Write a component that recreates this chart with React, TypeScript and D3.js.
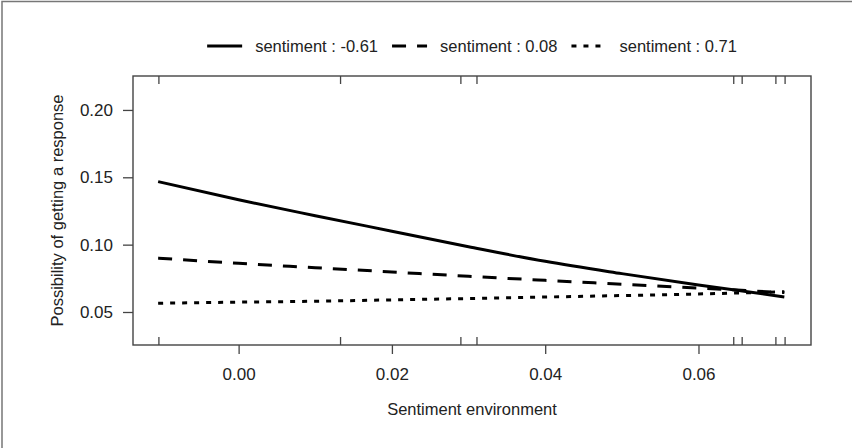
import React, { useEffect, useRef } from "react";
import * as d3 from "d3";

// values
const xPoints = [-0.0105, 0.0, 0.01, 0.02, 0.03, 0.04, 0.05, 0.06, 0.0712];
const negSentiment = [0.1468, 0.1333, 0.1215, 0.11, 0.0985, 0.0876, 0.0785, 0.07, 0.0612];
const midSentiment = [0.09, 0.0861, 0.0829, 0.0797, 0.0765, 0.0735, 0.0706, 0.0678, 0.0644];
const posSentiment = [0.0565, 0.0573, 0.058, 0.059, 0.06, 0.0611, 0.0622, 0.0634, 0.065];
const seriesLabels = ["sentiment : -0.61", "sentiment : 0.08", "sentiment : 0.71"];
const rugValues = [-0.0104, 0.0133, 0.029, 0.0311, 0.0646, 0.0657, 0.0701, 0.0713];
const xTicks = [0.0, 0.02, 0.04, 0.06];
const yTicks = [0.05, 0.1, 0.15, 0.2];

const FONT = "'Liberation Sans', Arial, sans-serif";

const App = () => {
  const svgRef = useRef(null);

  useEffect(() => {
    const width = 852;
    const height = 448;
    const box = { left: 133, right: 811, top: 76, bottom: 345 };

    const svg = d3.select(svgRef.current);
    svg.selectAll("*").remove();
    svg.attr("width", width).attr("height", height);

    svg.append("rect").attr("width", width).attr("height", height).attr("fill", "#fff");
    // outer frame (only top and left edges show)
    svg
      .append("rect")
      .attr("x", 2)
      .attr("y", 1.5)
      .attr("width", width)
      .attr("height", height)
      .attr("fill", "none")
      .attr("stroke", "#777")
      .attr("stroke-width", 1.5);

    const x = d3.scaleLinear().domain([-0.01378, 0.07468]).range([box.left, box.right]);
    const y = d3.scaleLinear().domain([0.0255, 0.2252]).range([box.bottom, box.top]);

    // x axis
    const xAxis = d3
      .axisBottom(x)
      .tickValues(xTicks)
      .tickSize(9)
      .tickPadding(14)
      .tickFormat(d3.format(".2f"));
    const gx = svg.append("g").attr("transform", `translate(0,${box.bottom})`).call(xAxis);
    gx.select(".domain").remove();
    gx.selectAll("line").attr("stroke", "#444").attr("stroke-width", 1.3);
    gx.selectAll("text")
      .attr("font-family", FONT)
      .attr("font-size", 17)
      .attr("fill", "#222");

    // y axis
    const yAxis = d3
      .axisLeft(y)
      .tickValues(yTicks)
      .tickSize(10)
      .tickPadding(10)
      .tickFormat(d3.format(".2f"));
    const gy = svg.append("g").attr("transform", `translate(${box.left},0)`).call(yAxis);
    gy.select(".domain").remove();
    gy.selectAll("line").attr("stroke", "#444").attr("stroke-width", 1.3);
    gy.selectAll("text")
      .attr("font-family", FONT)
      .attr("font-size", 17)
      .attr("fill", "#222");

    // rug marks, bottom and top
    svg
      .selectAll(".rugB")
      .data(rugValues)
      .enter()
      .append("line")
      .attr("x1", (d) => x(d))
      .attr("x2", (d) => x(d))
      .attr("y1", box.bottom)
      .attr("y2", box.bottom - 8)
      .attr("stroke", "#444")
      .attr("stroke-width", 1.3);
    svg
      .selectAll(".rugT")
      .data(rugValues)
      .enter()
      .append("line")
      .attr("x1", (d) => x(d))
      .attr("x2", (d) => x(d))
      .attr("y1", box.top)
      .attr("y2", box.top + 8)
      .attr("stroke", "#444")
      .attr("stroke-width", 1.3);

    // plot box
    svg
      .append("rect")
      .attr("x", box.left)
      .attr("y", box.top)
      .attr("width", box.right - box.left)
      .attr("height", box.bottom - box.top)
      .attr("fill", "none")
      .attr("stroke", "#444")
      .attr("stroke-width", 1.4);

    const dashes = [null, "14,11", "5,7"];
    const series = [negSentiment, midSentiment, posSentiment];

    const line = d3
      .line()
      .x((d) => x(d[0]))
      .y((d) => y(d[1]))
      .curve(d3.curveMonotoneX);

    series.forEach((vals, i) => {
      svg
        .append("path")
        .datum(xPoints.map((xv, j) => [xv, vals[j]]))
        .attr("d", line)
        .attr("fill", "none")
        .attr("stroke", "#000")
        .attr("stroke-width", 3)
        .attr("stroke-dasharray", dashes[i])
        .attr("stroke-linecap", "butt");
    });

    // legend, laid out horizontally and centred over the plot
    const legend = svg.append("g");
    const segLen = 35;
    const segGap = 13;
    const itemGap = 14;
    let cursor = 0;
    seriesLabels.forEach((label, i) => {
      legend
        .append("line")
        .attr("x1", cursor)
        .attr("x2", cursor + segLen)
        .attr("y1", 0)
        .attr("y2", 0)
        .attr("stroke", "#000")
        .attr("stroke-width", 3)
        .attr("stroke-dasharray", dashes[i]);
      const t = legend
        .append("text")
        .attr("x", cursor + segLen + segGap)
        .attr("y", 0)
        .attr("dy", "0.35em")
        .attr("font-family", FONT)
        .attr("font-size", 16.5)
        .attr("fill", "#222")
        .text(label);
      const w = t.node().getComputedTextLength();
      cursor += segLen + segGap + w + itemGap;
    });
    const totalW = cursor - itemGap;
    legend.attr("transform", `translate(${(box.left + box.right) / 2 - totalW / 2},46)`);

    // axis titles
    svg
      .append("text")
      .attr("x", (box.left + box.right) / 2)
      .attr("y", 409)
      .attr("dy", "0.35em")
      .attr("text-anchor", "middle")
      .attr("font-family", FONT)
      .attr("font-size", 16.5)
      .attr("fill", "#222")
      .text("Sentiment environment");

    svg
      .append("text")
      .attr("transform", `translate(57,${(box.top + box.bottom) / 2}) rotate(-90)`)
      .attr("dy", "0.35em")
      .attr("text-anchor", "middle")
      .attr("font-family", FONT)
      .attr("font-size", 16.5)
      .attr("fill", "#222")
      .text("Possibility of getting a response");
  }, []);

  return (
    <svg ref={svgRef} style={{ position: "absolute", left: 0, top: 0, display: "block" }}></svg>
  );
};

export default App;
